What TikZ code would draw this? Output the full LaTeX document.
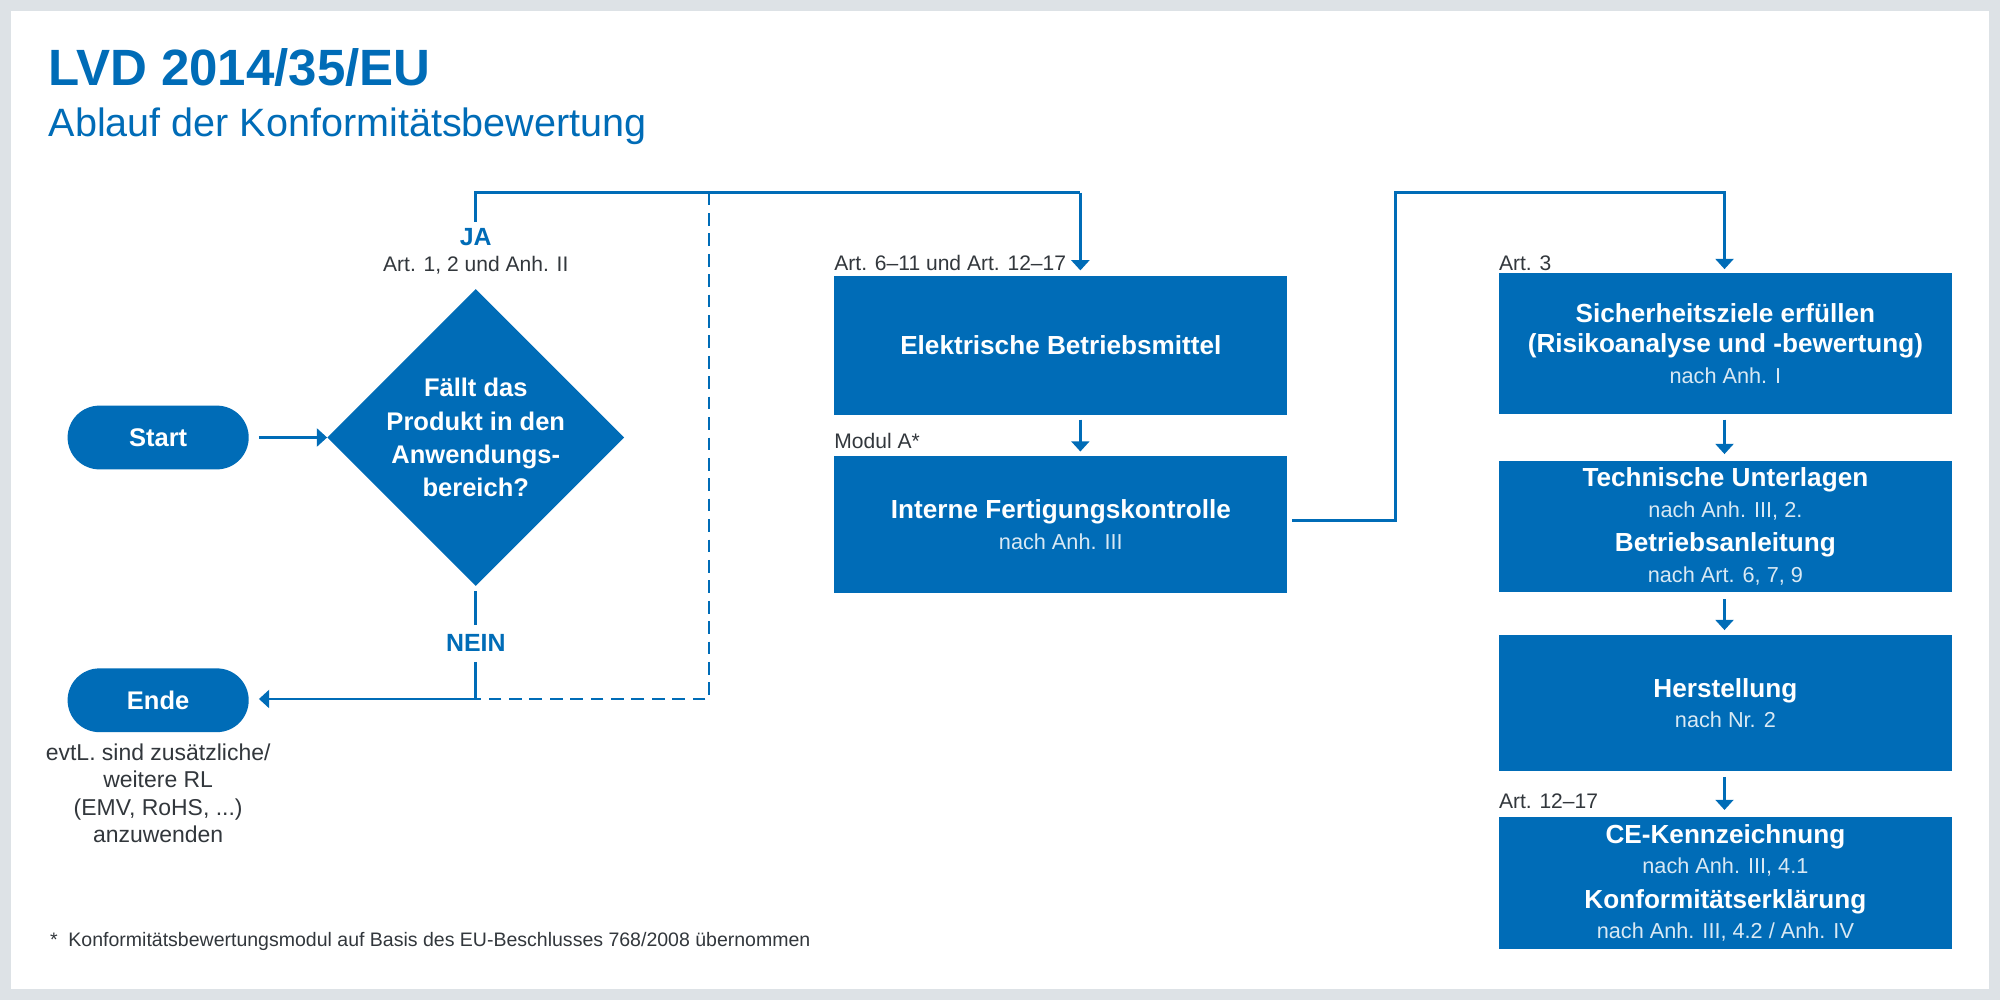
\documentclass[tikz,border=0pt]{standalone}
\usepackage{fontspec}
\setmainfont{Liberation Sans}
\usetikzlibrary{arrows.meta,shapes.geometric}
\definecolor{bl}{RGB}{0,108,183}
\definecolor{bg}{RGB}{221,226,230}
\definecolor{tx}{RGB}{50,55,60}
\tikzset{
 box/.style={fill=bl,text=white,minimum width=355pt,align=center,font=\fontsize{20.5}{24}\selectfont,inner sep=0pt},
 pill/.style={fill=bl,text=white,rounded corners=25pt,minimum width=142pt,minimum height=50pt,font=\bfseries\fontsize{20}{24}\selectfont},
 con/.style={draw=bl,line width=2pt},
 arr/.style={con,-{Triangle[width=14pt,length=8pt]}},
 lab/.style={text=tx,font=\fontsize{16.5}{20}\selectfont,inner sep=0pt},
 blab/.style={text=bl,font=\bfseries\fontsize{19.5}{23}\selectfont,inner sep=0pt}
}
\newcommand{\sm}[1]{{\fontsize{17}{22}\selectfont\color{white!85!bl}#1}}
\begin{document}
\begin{tikzpicture}[x=1pt,y=-1pt]
\fill[bg] (0,0) rectangle (1568,784);
\fill[white] (9,9) rectangle (1559,775);
\useasboundingbox (0,0) rectangle (1568,784);
\node[anchor=base west,text=bl,font=\bfseries\fontsize{40}{46}\selectfont,inner sep=0pt] (t1) at (38,67) {LVD 2014/35/EU};
\node[anchor=base west,text=bl,font=\fontsize{31}{36}\selectfont,inner sep=0pt] (t2) at (38,107) {Ablauf der Konformitätsbewertung};
% left part
\node[pill] (start) at (124,343) {Start};
\node[pill] (ende) at (124,549) {Ende};
\node[diamond,fill=bl,text=white,minimum width=230pt,minimum height=230pt,inner sep=0pt,align=center,font=\bfseries\fontsize{20}{26}\selectfont] (dia) at (373,343) {Fällt das\\Produkt in den\\Anwendungs-\\bereich?};
\draw[arr] (203,343) coordinate (s1) -- (dia.west);
\node[blab] (ja) at (373,186) {JA};
\node[lab] (art12) at (373,208) {Art. 1, 2 und Anh. II};
\node[blab] (nein) at (373,504) {NEIN};
\node[lab,align=center,font=\fontsize{18}{21.5}\selectfont] (note) at (124,622) {evtL. sind zusätzliche/\\weitere RL\\(EMV, RoHS, ...)\\anzuwenden};
% middle boxes
\node[box,anchor=north west,minimum height=109pt,font=\bfseries\fontsize{20.5}{24}\selectfont] (b1) at (654,216) {Elektrische Betriebsmittel};
\node[box,anchor=north west,minimum height=108pt] (b2) at (654,357) {\textbf{Interne Fertigungskontrolle}\\\sm{nach Anh. III}};
\node[lab,anchor=base west] (l1) at (654,212) {Art. 6–11 und Art. 12–17};
\node[lab,anchor=base west] (l2) at (654,352) {Modul A*};
% right boxes
\node[box,anchor=north west,minimum height=110pt] (b3) at (1175,214) {\textbf{Sicherheitsziele erfüllen}\\\textbf{(Risikoanalyse und -bewertung)}\\\sm{nach Anh. I}};
\node[box,anchor=north west,minimum height=103pt] (b4) at (1175,361) {\textbf{Technische Unterlagen}\\\sm{nach Anh. III, 2.}\\[3pt]\textbf{Betriebsanleitung}\\\sm{nach Art. 6, 7, 9}};
\node[box,anchor=north west,minimum height=106pt] (b5) at (1175,498) {\textbf{Herstellung}\\\sm{nach Nr. 2}};
\node[box,anchor=north west,minimum height=104pt] (b6) at (1175,640) {\textbf{CE-Kennzeichnung}\\\sm{nach Anh. III, 4.1}\\[3pt]\textbf{Konformitätserklärung}\\\sm{nach Anh. III, 4.2 / Anh. IV}};
\node[lab,anchor=base west] (l3) at (1175,212) {Art. 3};
\node[lab,anchor=base west] (l4) at (1175,634) {Art. 12–17};
\node[lab,anchor=base west,font=\fontsize{15.3}{18}\selectfont] (fn) at (39,742) {*\ \ Konformitätsbewertungsmodul auf Basis des EU-Beschlusses 768/2008 übernommen};
% connectors
\coordinate (top1) at (373,151);
\coordinate (top2) at (847,151);
\coordinate (dtop) at (556,151);
\coordinate (dbot) at (556,548);
\coordinate (nbot) at (373,548);
\draw[con] (373,174) coordinate (jatop) -- (top1) -- (top2);
\draw[arr] (top2) -- (847,212) coordinate (b1in);
\draw[con,dashed,dash pattern=on 10pt off 6pt] (dtop) -- (dbot) -- (nbot);
\draw[con] (dia.south) ++(0,4) -- (373,490);
\draw[arr] (373,519) -- (nbot) -- (203,548) coordinate (ein);
\draw[arr] (847,329) -- (847,354);
\coordinate (c1) at (1094,408);
\coordinate (c2) at (1094,151);
\coordinate (c3) at (1352,151);
\draw[arr] (1013,408) coordinate (b2out) -- (c1) -- (c2) -- (c3) -- (1352,211);
\draw[arr] (1352,329) -- (1352,356);
\draw[arr] (1352,470) -- (1352,494);
\draw[arr] (1352,609) -- (1352,635);
\end{tikzpicture}
\end{document}
